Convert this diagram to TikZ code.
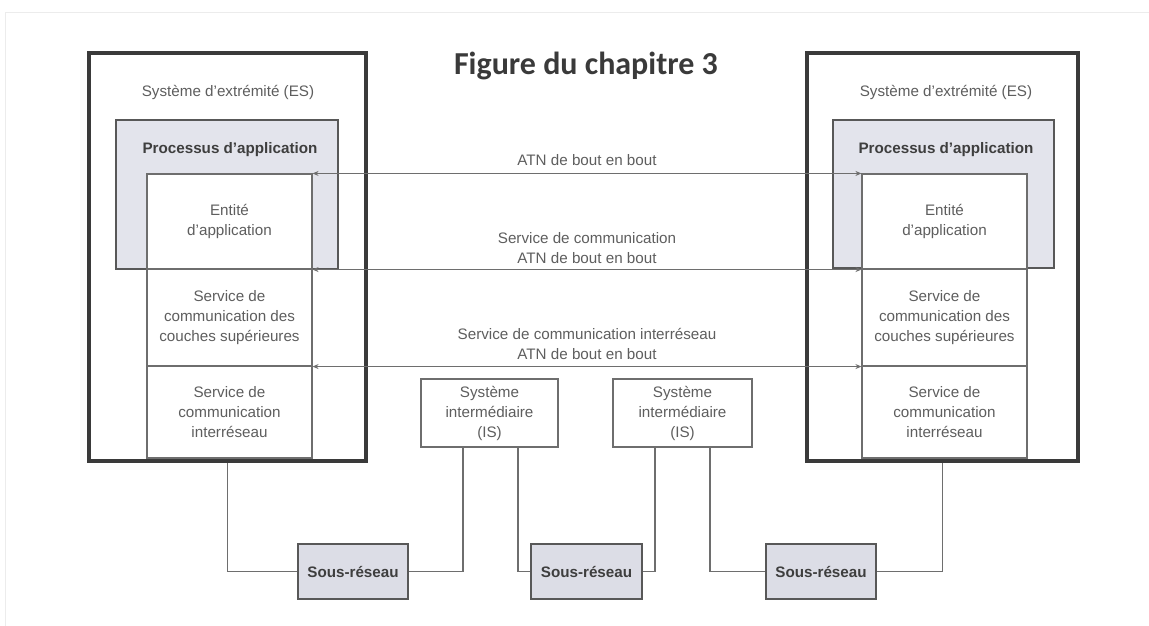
\documentclass[tikz,border=0pt]{standalone}
\usepackage{fontspec}
\setmainfont{Liberation Sans}
\newfontfamily\titlefont{Carlito}
\usetikzlibrary{arrows.meta,calc}
\definecolor{txtgray}{HTML}{5E5E5E}
\definecolor{boldgray}{HTML}{3E3E3E}
\definecolor{outerc}{HTML}{3A3A3A}
\definecolor{pfill}{HTML}{E3E4EC}
\definecolor{sfill}{HTML}{DCDDE6}
\definecolor{linec}{HTML}{6E6E6E}
\definecolor{framec}{HTML}{ECECEC}
\tikzset{
  txt/.style={font=\fontsize{15.2}{20}\selectfont, text=txtgray, align=center, inner sep=0},
  btxt/.style={font=\fontsize{15.2}{20}\selectfont\bfseries, text=boldgray, align=center, inner sep=0},
  outerbox/.style={draw=outerc, line width=3.5pt, fill=white, inner sep=0},
  procbox/.style={draw=linec!80!black, line width=2pt, fill=pfill, inner sep=0},
  layerbox/.style={draw=linec, line width=1.1pt, fill=white, inner sep=0, txt},
  isbox/.style={draw=linec, line width=1.1pt, fill=white, inner sep=0, txt},
  srbox/.style={draw=linec!80!black, line width=1.6pt, fill=sfill, inner sep=0, btxt},
  conn/.style={draw=linec, line width=1.1pt},
  flow/.style={draw=linec, line width=1.1pt, {Stealth[length=6pt,width=5pt]}-{Stealth[length=6pt,width=5pt]}},
}
\begin{document}
\begin{tikzpicture}[x=1pt,y=-1pt]
\useasboundingbox (0,0) rectangle (1149,626);
% faint frame
\draw[framec, line width=1pt] (5,626) -- (5,13) -- (1149,13);
% title
\node[font=\titlefont\fontsize{32}{36}\selectfont\bfseries, text=outerc, inner sep=0] (title) at (586,66) {Figure du chapitre 3};
% end systems
\node[outerbox, minimum width=277, minimum height=408] (outL) at (227.5,257) {};
\node[outerbox, minimum width=271, minimum height=408] (outR) at (942.5,257) {};
\node[txt] (esL) at (228,92) {Système d'extrémité (ES)};
\node[txt] (esR) at (946,92) {Système d'extrémité (ES)};
% application process
\node[procbox, minimum width=222, minimum height=149] (procL) at (227,194.5) {};
\node[procbox, minimum width=221, minimum height=148] (procR) at (943.5,194) {};
\node[btxt] (procLt) at (230,150) {Processus d'application};
\node[btxt] (procRt) at (946,150) {Processus d'application};
% layers left
\node[layerbox, minimum width=165, minimum height=95] (entL) at (229.5,221.5) {Entité\\d'application};
\node[layerbox, minimum width=165, minimum height=97] (upL) at (229.5,317.5) {Service de\\communication des\\couches supérieures};
\node[layerbox, minimum width=165, minimum height=92] (inL) at (229.5,412) {Service de\\communication\\interréseau};
% layers right
\node[layerbox, minimum width=165, minimum height=95] (entR) at (944.5,221.5) {Entité\\d'application};
\node[layerbox, minimum width=165, minimum height=97] (upR) at (944.5,317.5) {Service de\\communication des\\couches supérieures};
\node[layerbox, minimum width=165, minimum height=92] (inR) at (944.5,412) {Service de\\communication\\interréseau};
% flows
\draw[flow] (entL.north east) -- (entR.north west);
\draw[flow] (entL.south east) -- (entR.south west);
\draw[flow] (upL.south east) -- (upR.south west);
\node[txt] (f1) at (587,160) {ATN de bout en bout};
\node[txt] (f2) at (587,248) {Service de communication\\ATN de bout en bout};
\node[txt] (f3) at (587,344) {Service de communication interréseau\\ATN de bout en bout};
% intermediate systems
\node[isbox, minimum width=137, minimum height=68] (is1) at (489.5,413) {Système\\intermédiaire\\(IS)};
\node[isbox, minimum width=139, minimum height=68] (is2) at (682.5,413) {Système\\intermédiaire\\(IS)};
% subnetworks
\node[srbox, minimum width=110, minimum height=55] (sr1) at (353,571.5) {Sous-réseau};
\node[srbox, minimum width=111, minimum height=55] (sr2) at (586.5,571.5) {Sous-réseau};
\node[srbox, minimum width=110, minimum height=55] (sr3) at (821,571.5) {Sous-réseau};
% connectors
\draw[conn] (outL.south) |- (sr1.west);
\draw[conn] (sr1.east) -| ([xshift=-26.5pt]is1.south);
\draw[conn] ([xshift=28.5pt]is1.south) |- (sr2.west);
\draw[conn] (sr2.east) -| ([xshift=-27.5pt]is2.south);
\draw[conn] ([xshift=27.5pt]is2.south) |- (sr3.west);
\draw[conn] (sr3.east) -| (outR.south);
\end{tikzpicture}
\end{document}
